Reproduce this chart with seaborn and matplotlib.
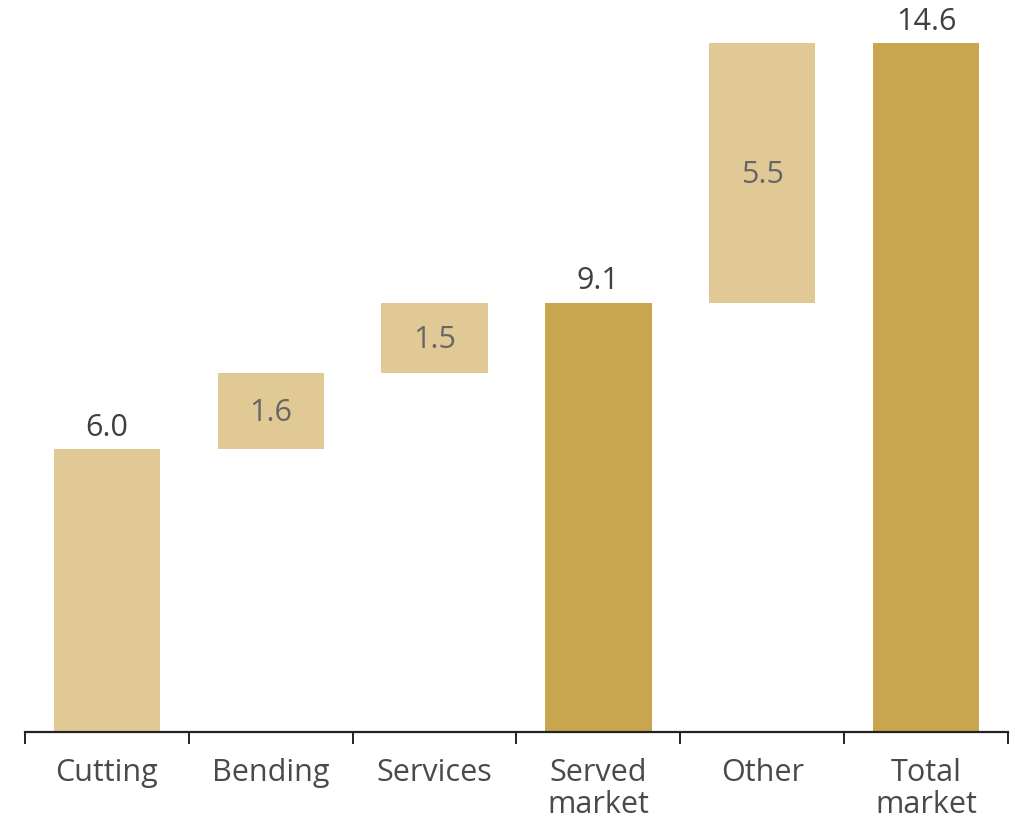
import matplotlib
matplotlib.use("Agg")
import matplotlib.pyplot as plt
import seaborn as sns
import numpy as np

categories = ["Cutting", "Bending", "Services", "Served\nmarket", "Other", "Total\nmarket"]
values = [6.0, 1.6, 1.5, 9.1, 5.5, 14.6]
bottoms = [0.0, 6.0, 7.6, 0.0, 9.1, 0.0]
is_total = [False, False, False, True, False, True]
value_labels = ["6.0", "1.6", "1.5", "9.1", "5.5", "14.6"]

LIGHT = "#E0C995"
DARK = "#C9A550"

sns.set_theme(style="white")
plt.rcParams["font.family"] = ["Open Sans", "DejaVu Sans"]

fig = plt.figure(figsize=(10.15, 8.19), dpi=100)
ax = fig.add_axes([25 / 1015, 1 - 732 / 819, (1008 - 25) / 1015, 732 / 819])

sns.barplot(x=list(range(len(categories))), y=values, bottom=bottoms, width=0.65,
            ax=ax, native_scale=True, linewidth=0, color=LIGHT, saturation=1)
for patch, tot in zip(ax.patches, is_total):
    patch.set_facecolor(DARK if tot else LIGHT)
    patch.set_edgecolor("none")

ax.set_xlim(-0.5, len(categories) - 0.5)
ax.set_ylim(0, 14.6 * 732 / 689)

for i, (v, b, tot, lab) in enumerate(zip(values, bottoms, is_total, value_labels)):
    if tot or b == 0:
        ax.text(i, b + v + 0.28, lab, ha="center", va="baseline", fontsize=22, color="#404040")
    else:
        ax.text(i, b + v / 2 - 0.05, lab, ha="center", va="center", fontsize=22, color="#666666")

for s in ["top", "right", "left"]:
    ax.spines[s].set_visible(False)
ax.spines["bottom"].set_color("#222222")
ax.spines["bottom"].set_linewidth(1.6)
ax.set_yticks([])
ax.set_xticks(np.arange(-0.5, len(categories), 1.0))
ax.set_xticklabels([])
ax.tick_params(axis="x", which="major", direction="out", length=8.5, width=1.4, color="#222222", bottom=True)
ax.set_xticks(np.arange(len(categories)), minor=True)
ax.set_xticklabels(categories, minor=True, fontsize=22, color="#4a4a4a", linespacing=1.08)
ax.tick_params(axis="x", which="minor", length=0, pad=18.5)
ax.set_xlabel("")
ax.set_ylabel("")
ax.set_facecolor("white")

fig.savefig("out.png", dpi=100, facecolor="white")
